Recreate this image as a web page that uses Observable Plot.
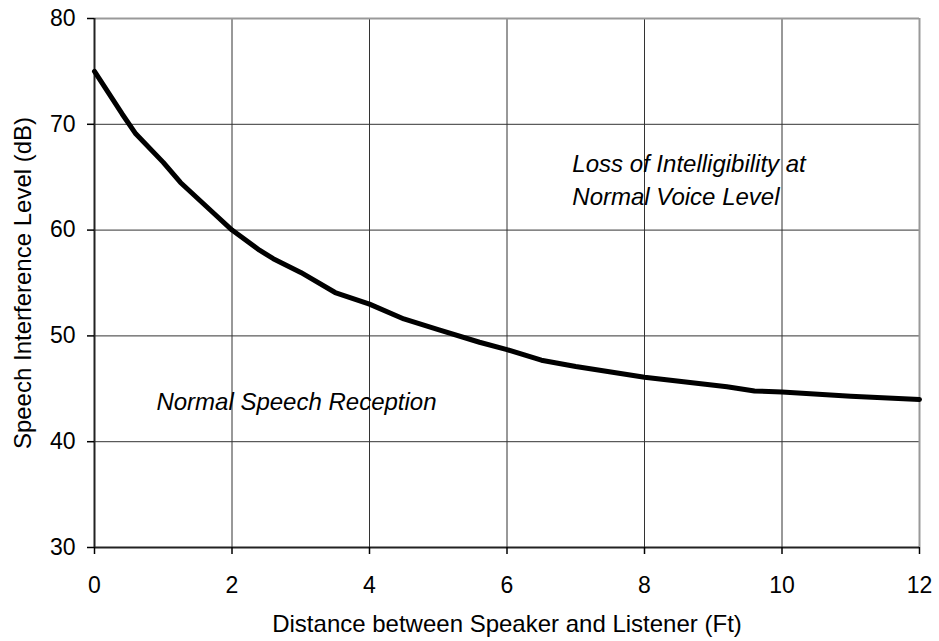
<!DOCTYPE html>
<html>
<head>
<meta charset="utf-8">
<script src="https://cdn.jsdelivr.net/npm/d3@7"></script>
<script src="https://cdn.jsdelivr.net/npm/@observablehq/plot@0.6"></script>
<style>
  html, body { margin: 0; padding: 0; background: #fff; }
  #chart { width: 939px; height: 641px; }
</style>
</head>
<body>
<div id="chart"></div>
<script>
// Data
const distance = [0, 0.4, 0.6, 1.0, 1.25, 1.75, 2.0, 2.4, 2.6, 3.0, 3.5, 4.0, 4.5, 5.0, 5.6, 6.0, 6.5, 7.0, 8.0, 9.2, 9.6, 10.0, 11.0, 12.0];
const level    = [75.0, 71.0, 69.1, 66.4, 64.5, 61.5, 60.0, 58.1, 57.3, 56.0, 54.1, 53.0, 51.6, 50.6, 49.4, 48.7, 47.7, 47.1, 46.1, 45.2, 44.8, 44.7, 44.3, 44.0];
const xTicks = [0, 2, 4, 6, 8, 10, 12];
const yTicks = [30, 40, 50, 60, 70, 80];
const xLabel = "Distance between Speaker and Listener (Ft)";
const yLabel = "Speech Interference Level (dB)";
const annotations = [
  {x: 6.95, y: 62.33, text: "Loss of Intelligibility at\nNormal Voice Level"},
  {x: 0.9, y: 42.95, text: "Normal Speech Reception"}
];

const rows = distance.map((d, i) => ({distance: d, level: level[i]}));
const innerX = xTicks.filter(d => d > xTicks[0] && d < xTicks[xTicks.length - 1]);
const innerY = yTicks.filter(d => d > yTicks[0] && d < yTicks[yTicks.length - 1]);

const chart = Plot.plot({
  width: 939,
  height: 641,
  marginLeft: 94,
  marginRight: 20,
  marginTop: 18,
  marginBottom: 94,
  style: {fontFamily: "'Liberation Sans', Arial, sans-serif", fontSize: "23px", background: "#fff", color: "#000"},
  x: {domain: [xTicks[0], xTicks[xTicks.length - 1]]},
  y: {domain: [yTicks[0], yTicks[yTicks.length - 1]]},
  marks: [
    Plot.ruleX(innerX, {stroke: "#333", strokeWidth: 1}),
    Plot.ruleY(innerY, {stroke: "#333", strokeWidth: 1}),
    Plot.ruleY([yTicks[yTicks.length - 1]], {stroke: "#999", strokeWidth: 2}),
    Plot.ruleX([xTicks[xTicks.length - 1]], {stroke: "#999", strokeWidth: 2}),
    Plot.ruleX([xTicks[0]], {stroke: "#222", strokeWidth: 2}),
    Plot.ruleY([yTicks[0]], {stroke: "#222", strokeWidth: 2}),
    Plot.line(rows, {x: "distance", y: "level", stroke: "#000", strokeWidth: 5, curve: "linear", strokeLinejoin: "round"}),
    Plot.axisX({ticks: xTicks, tickSize: 7, tickPadding: 22, label: null, fontSize: 23, strokeWidth: 1.5}),
    Plot.axisY({ticks: yTicks, tickSize: 7, tickPadding: 12, label: null, fontSize: 23, strokeWidth: 1.5}),
    Plot.text(annotations, {x: "x", y: "y", text: "text", textAnchor: "start", lineAnchor: "bottom", lineHeight: 1.39, fontStyle: "italic", fontSize: 24, fill: "#000"}),
    Plot.text([xLabel], {frameAnchor: "bottom", dy: 77, text: d => d, textAnchor: "middle", lineAnchor: "middle", fontSize: 24, fill: "#000"}),
    Plot.text([yLabel], {frameAnchor: "left", dx: -71, rotate: -90, text: d => d, textAnchor: "middle", lineAnchor: "middle", fontSize: 24, fill: "#000"})
  ]
});
document.getElementById("chart").appendChild(chart);
</script>
</body>
</html>
